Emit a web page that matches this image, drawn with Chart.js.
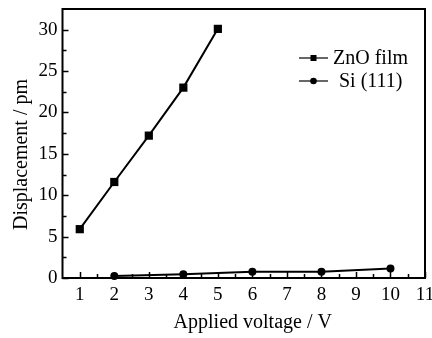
<!DOCTYPE html>
<html>
<head>
<meta charset="utf-8">
<script src="https://cdn.jsdelivr.net/npm/chart.js@4/dist/chart.umd.min.js"></script>
<style>
  html, body { margin: 0; padding: 0; background: #fff; }
  #wrap { width: 432px; height: 338px; }
</style>
</head>
<body>
<div id="wrap"><canvas id="c" width="432" height="338"></canvas></div>
<script>
// Applied voltage (V) and measured displacement (pm)
const znoVoltage = [1, 2, 3, 4, 5];
const znoDisplacement = [5.9, 11.6, 17.2, 23.0, 30.1];
const siVoltage = [2, 4, 6, 8, 10];
const siDisplacement = [0.25, 0.45, 0.75, 0.75, 1.15];

const xTicks = [1, 2, 3, 4, 5, 6, 7, 8, 9, 10, 11];
const yTicks = [0, 5, 10, 15, 20, 25, 30];
const seriesNames = ['ZnO film', 'Si (111)'];
const xTitle = 'Applied voltage / V';
const yTitle = 'Displacement / pm';

const SERIF = '"Liberation Serif", "DejaVu Serif", serif';

function toPoints(xs, ys) {
  return xs.map((x, i) => ({ x: x, y: ys[i] }));
}

// Frame around the plot area plus inward-pointing major and minor ticks
const framePlugin = {
  id: 'frame',
  afterDraw(chart) {
    const { ctx, chartArea: a, scales } = chart;
    ctx.save();
    ctx.strokeStyle = '#000';
    ctx.lineWidth = 2;
    ctx.strokeRect(a.left, a.top, a.right - a.left, a.bottom - a.top);

    ctx.lineWidth = 1.5;
    ctx.beginPath();
    const xs = scales.x;
    for (const t of xTicks) {
      const px = Math.round(xs.getPixelForValue(t)) + 0.5;
      ctx.moveTo(px, a.bottom); ctx.lineTo(px, a.bottom - 6);
      if (t + 0.5 < xs.max) {
        const mx = Math.round(xs.getPixelForValue(t + 0.5)) + 0.5;
        ctx.moveTo(mx, a.bottom); ctx.lineTo(mx, a.bottom - 4);
      }
    }
    const ys = scales.y;
    for (const t of yTicks) {
      const py = Math.round(ys.getPixelForValue(t)) + 0.5;
      ctx.moveTo(a.left, py); ctx.lineTo(a.left + 6, py);
      if (t + 2.5 < ys.max) {
        const my = Math.round(ys.getPixelForValue(t + 2.5)) + 0.5;
        ctx.moveTo(a.left, my); ctx.lineTo(a.left + 4, my);
      }
    }
    ctx.stroke();
    ctx.restore();
  }
};

// Axis titles, placed a little right of / below the plot centre
const titlesPlugin = {
  id: 'axisTitles',
  afterDraw(chart) {
    const { ctx, chartArea: a } = chart;
    ctx.save();
    ctx.fillStyle = '#000';
    ctx.font = '20px ' + SERIF;
    ctx.textAlign = 'center';
    ctx.textBaseline = 'middle';
    ctx.fillText(xTitle, (a.left + a.right) / 2 + 9, 323);
    ctx.translate(22, (a.top + a.bottom) / 2 + 11);
    ctx.rotate(-Math.PI / 2);
    ctx.fillText(yTitle, 0, 0);
    ctx.restore();
  }
};

// Legend in the upper right of the plot: line sample with marker, then name
const legendPlugin = {
  id: 'insideLegend',
  afterDraw(chart) {
    const { ctx } = chart;
    const rows = [
      { name: seriesNames[0], y: 58, style: 'rect', tx: 333 },
      { name: seriesNames[1], y: 81, style: 'circle', tx: 339 }
    ];
    ctx.save();
    ctx.strokeStyle = '#000';
    ctx.fillStyle = '#000';
    ctx.lineWidth = 1.2;
    ctx.font = '20px ' + SERIF;
    ctx.textBaseline = 'middle';
    for (const r of rows) {
      ctx.beginPath();
      ctx.moveTo(299, r.y); ctx.lineTo(328, r.y);
      ctx.stroke();
      if (r.style === 'rect') {
        ctx.fillRect(310.5, r.y - 3, 6, 6);
      } else {
        ctx.beginPath();
        ctx.arc(313.5, r.y, 3.3, 0, Math.PI * 2);
        ctx.fill();
      }
      ctx.fillText(r.name, r.tx, r.y + 1);
    }
    ctx.restore();
  }
};

new Chart(document.getElementById('c'), {
  type: 'line',
  data: {
    datasets: [
      {
        label: seriesNames[0],
        data: toPoints(znoVoltage, znoDisplacement),
        borderColor: '#000',
        backgroundColor: '#000',
        borderWidth: 2,
        pointStyle: 'rect',
        pointRadius: 5.8,
        pointBorderWidth: 0,
        tension: 0,
        clip: false
      },
      {
        label: seriesNames[1],
        data: toPoints(siVoltage, siDisplacement),
        borderColor: '#000',
        backgroundColor: '#000',
        borderWidth: 2,
        pointStyle: 'circle',
        pointRadius: 4,
        pointBorderWidth: 0,
        tension: 0,
        clip: false
      }
    ]
  },
  options: {
    responsive: false,
    animation: false,
    devicePixelRatio: 1,
    layout: { padding: { left: 0, right: 7, top: 9, bottom: 0 } },
    plugins: {
      legend: { display: false },
      tooltip: { enabled: false }
    },
    scales: {
      x: {
        type: 'linear',
        min: 0.5,
        max: 11,
        afterBuildTicks: s => { s.ticks = xTicks.map(v => ({ value: v })); },
        afterFit: s => { s.height = 60; s.paddingLeft = 0; s.paddingRight = 0; },
        grid: { display: false, drawTicks: false },
        border: { display: false },
        ticks: {
          color: '#000',
          padding: 6,
          maxRotation: 0,
          autoSkip: false,
          font: { family: SERIF, size: 19 }
        },
        title: { display: false }
      },
      y: {
        type: 'linear',
        min: 0,
        max: 32.5,
        afterBuildTicks: s => { s.ticks = yTicks.map(v => ({ value: v })); },
        afterFit: s => { s.width = 62.5; s.paddingTop = 0; s.paddingBottom = 0; },
        grid: { display: false, drawTicks: false },
        border: { display: false },
        ticks: {
          color: '#000',
          padding: 5,
          font: { family: SERIF, size: 19 }
        },
        title: { display: false }
      }
    }
  },
  plugins: [framePlugin, titlesPlugin, legendPlugin]
});
</script>
</body>
</html>
